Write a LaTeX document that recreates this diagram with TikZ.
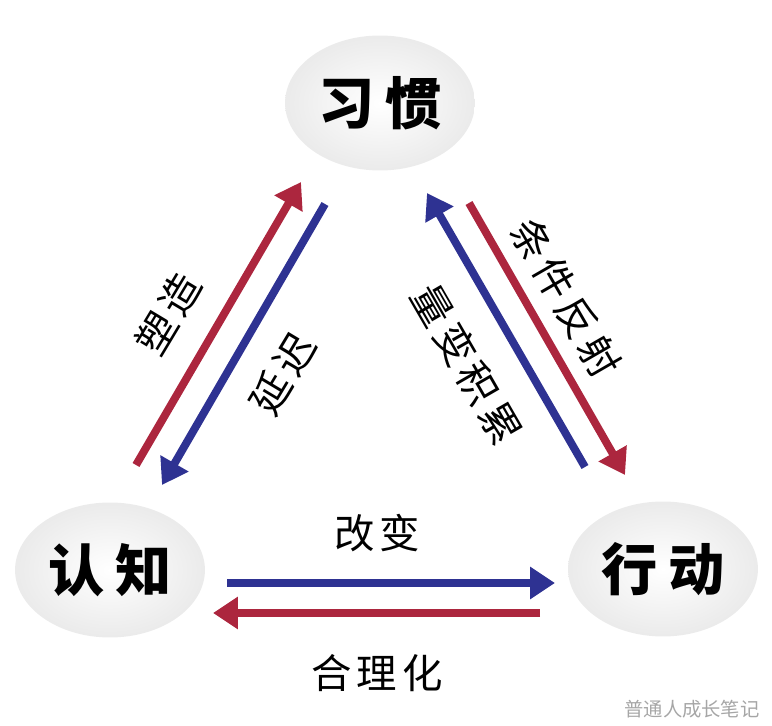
\documentclass[tikz,border=0pt]{standalone}
\usepackage{fontspec}
\setmainfont{Noto Sans CJK SC}
\usepackage{tikz}
\usetikzlibrary{
    arrows.meta,
    positioning,
    shapes.geometric
}
\definecolor{arrowred}{RGB}{172,38,62}
\definecolor{arrowblue}{RGB}{46,50,146}
\newcommand{\gap}{\hspace{0.12em}}

\begin{document}
\begin{tikzpicture}[
  x=0.02cm, y=-0.02cm,
  concept/.style = {ellipse, shading=radial, inner color=white,
                    outer color=black!8, minimum width=3.5cm,
                    minimum height=2.7cm, font=\fontsize{32}{34}\selectfont\bfseries},
  redarrow/.style  = {draw=arrowred, line width=4.5pt,
                      -{Triangle[length=0.5cm, width=0.62cm]}},
  bluearrow/.style = {draw=arrowblue, line width=4.5pt,
                      -{Triangle[length=0.5cm, width=0.62cm]}},
  tag/.style = {font=\fontsize{23}{25}\selectfont, inner sep=0pt}
]
\useasboundingbox (0,0) rectangle (772,726);

% Nodes
\node[concept] (habit)     at (380,103) {习\hspace{0.18em}惯};
\node[concept] (cognition) at (110,570) {认\hspace{0.18em}知};
\node[concept] (action)    at (663,569) {行\hspace{0.18em}动};

% Arrow end points
\coordinate (ch1) at (136,465); \coordinate (ch2) at (301,182);
\coordinate (hc1) at (325,204); \coordinate (hc2) at (162,485);
\coordinate (ah1) at (585,467); \coordinate (ah2) at (427,193);
\coordinate (ha1) at (469,203); \coordinate (ha2) at (625,475);
\coordinate (ca1) at (227,583); \coordinate (ca2) at (555,583);
\coordinate (ac1) at (540,613); \coordinate (ac2) at (213,613);

% Cognition <-> habit
\draw[redarrow]  (ch1) -- (ch2);
\draw[bluearrow] (hc1) -- (hc2);
\node[tag, rotate=59] (shape) at (168,314) {塑\gap 造};
\node[tag, rotate=59] (delay) at (283,374) {延\gap 迟};

% Action <-> habit
\draw[bluearrow] (ah1) -- (ah2);
\draw[redarrow]  (ha1) -- (ha2);
\node[tag, rotate=-60] (reflex) at (566,298) {条\gap 件\gap 反\gap 射};
\node[tag, rotate=-60] (accum)  at (467,364) {量\gap 变\gap 积\gap 累};

% Cognition <-> action
\draw[bluearrow] (ca1) -- (ca2);
\draw[redarrow]  (ac1) -- (ac2);
\node[tag] (change) at (377,533) {改\gap 变};
\node[tag] (excuse) at (377,673) {合\gap 理\gap 化};

% Watermark
\node[font=\fontsize{11}{12}\selectfont, text=black!35, inner sep=0pt]
  (mark) at (692,709) {普通人成长笔记};
\end{tikzpicture}
\end{document}
